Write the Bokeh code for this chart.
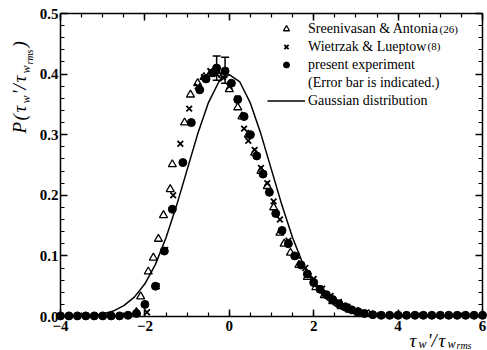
import math
from bokeh.plotting import figure
from bokeh.models import (ColumnDataSource, Range1d, SingleIntervalTicker, LinearAxis,
                          Whisker, TeeHead, Legend, LegendItem, Label, PrintfTickFormatter,
                          CustomJSTickFormatter)
from bokeh.embed import file_html
from bokeh.resources import INLINE

# ---------------- data ----------------
# present experiment (filled circles)
pres_x = [-4.0, -3.8, -3.6, -3.4, -3.2, -3.0, -2.8, -2.6, -2.4, -2.2, -2.0, -1.75, -1.54, -1.35,
          -1.1, -0.9, -0.7, -0.55, -0.4, -0.3, -0.1, 0.05, 0.2, 0.35, 0.5, 0.65, 0.8, 0.95,
          1.1, 1.25, 1.4, 1.55, 1.7, 1.85, 2.0, 2.15, 2.3, 2.45, 2.6, 2.75, 2.9, 3.05, 3.2,
          3.4, 3.6, 3.8, 4.0, 4.2, 4.4, 4.6, 4.8, 5.0, 5.2, 5.4, 5.6, 5.8, 6.0]
pres_y = [0.001, 0.001, 0.001, 0.001, 0.001, 0.001, 0.001, 0.001, 0.002, 0.005, 0.02, 0.05, 0.108, 0.177,
          0.254, 0.32, 0.374, 0.392, 0.402, 0.41, 0.405, 0.385, 0.358, 0.33, 0.3, 0.265, 0.235, 0.205,
          0.17, 0.142, 0.12, 0.1, 0.085, 0.07, 0.056, 0.045, 0.036, 0.028, 0.021, 0.016, 0.011, 0.008, 0.005,
          0.003, 0.002, 0.002, 0.002, 0.002, 0.002, 0.002, 0.002, 0.002, 0.002, 0.002, 0.002, 0.002, 0.002]
# error bars of the present experiment
err_x = [-0.3, -0.1]
err_lo = [0.39, 0.385]
err_hi = [0.43, 0.428]

# Wietrzak & Lueptow (crosses)
wl_x = [-1.95, -1.72, -1.52, -1.33, -1.16, -0.95, -0.75, -0.6, -0.45, -0.3, -0.15, 0.0, 0.2, 0.35,
        0.45, 0.6, 0.75, 0.9, 1.05, 1.2, 1.4, 1.6, 1.8, 2.0, 2.2, 2.4, 2.6, 2.8, 3.0, 3.2]
wl_y = [0.007, 0.05, 0.11, 0.2, 0.285, 0.343, 0.38, 0.395, 0.405, 0.4, 0.395, 0.38, 0.36, 0.31,
        0.29, 0.275, 0.245, 0.22, 0.19, 0.16, 0.125, 0.1, 0.08, 0.062, 0.046, 0.034, 0.024, 0.016, 0.01, 0.006]

# Sreenivasan & Antonia (open triangles)
sa_x = [-2.2, -2.1, -1.92, -1.8, -1.68, -1.56, -1.4, -1.35, -1.06, -0.92, -0.75, -0.6, -0.45, -0.3,
        -0.15, 0.0, 0.2, 0.3, 0.45, 0.6, 0.75, 0.9, 1.05, 1.2, 1.3, 1.45, 1.65, 1.85, 2.05, 2.25,
        2.45, 2.65, 2.85, 3.05, 3.3]
sa_y = [0.007, 0.033, 0.074, 0.097, 0.128, 0.167, 0.21, 0.251, 0.32, 0.366, 0.385, 0.395, 0.4, 0.405,
        0.398, 0.375, 0.345, 0.33, 0.3, 0.27, 0.24, 0.215, 0.18, 0.138, 0.12, 0.105, 0.085, 0.065, 0.048, 0.035,
        0.025, 0.017, 0.011, 0.007, 0.004]

# Gaussian distribution (curve as drawn)
g_x = [-4, -3.75, -3.5, -3.25, -3, -2.75, -2.5, -2.25, -2, -1.75, -1.5, -1.25, -1, -0.75, -0.5, -0.25,
       0, 0.25, 0.5, 0.75, 1, 1.25, 1.5, 1.75, 2, 2.25, 2.5, 2.75, 3, 3.25, 3.5, 3.75, 4, 6]
g_y = [0.000, 0.000, 0.001, 0.002, 0.004, 0.009, 0.018, 0.032, 0.054, 0.086, 0.130, 0.183, 0.242, 0.301,
       0.352, 0.387, 0.399, 0.387, 0.352, 0.301, 0.242, 0.183, 0.130, 0.086, 0.054, 0.032, 0.018, 0.009,
       0.004, 0.002, 0.001, 0.000, 0.000, 0.000]

names = ["Sreenivasan & Antonia", "Wietrzak & Lueptow", "present experiment",
         "(Error bar is indicated.)", "Gaussian distribution"]
sups = ["(26)", "(8)"]

# ---------------- layout ----------------
W, H = 487, 350
FL, FR, FT, FB = 60, 482, 13, 316          # pixel box of the drawn axes
X0, X1, Y0, Y1 = -4, 6, 0, 0.5
kx = (FR - FL) / (X1 - X0)
ky = (FB - FT) / (Y1 - Y0)
xr = Range1d(X0 - FL / kx, X1 + (W - FR) / kx)
yr_ = Range1d(Y0 - (H - FB) / ky, Y1 + FT / ky)

def sx(px):
    return px

def sy(py):
    return H - py

SERIF = "Liberation Serif"

p = figure(width=W, height=H, output_backend="svg", toolbar_location=None,
           x_range=xr, y_range=yr_, min_border=0,
           x_axis_type=None, y_axis_type=None)
p.grid.visible = False
p.outline_line_color = None
p.background_fill_color = "white"
p.border_fill_color = "white"

xt = SingleIntervalTicker(interval=2, num_minor_ticks=4)
yt = SingleIntervalTicker(interval=0.1, num_minor_ticks=5)

def style_axis(ax, labels=True):
    ax.axis_line_color = "black"
    ax.axis_line_width = 1.5
    ax.major_tick_in = 7
    ax.major_tick_out = 0
    ax.minor_tick_in = 4
    ax.minor_tick_out = 0
    ax.major_tick_line_width = 1.5
    ax.minor_tick_line_width = 1.2
    ax.major_tick_line_color = "black"
    ax.minor_tick_line_color = "black"
    if labels:
        ax.major_label_text_font = SERIF
        ax.major_label_text_font_style = "bold"
        ax.major_label_text_font_size = "15px"
        ax.major_label_text_color = "black"
    else:
        ax.formatter = CustomJSTickFormatter(code="return ''")
        ax.major_label_text_font_size = "2px"
        ax.major_label_standoff = 0
        ax.axis_label_standoff = 0

xb = LinearAxis(ticker=xt, fixed_location=Y0, bounds=(X0, X1))
style_axis(xb)
xb.major_label_standoff = 4
p.add_layout(xb, "below")
xa = LinearAxis(ticker=xt, fixed_location=Y1, bounds=(X0, X1))
style_axis(xa, labels=False)
p.add_layout(xa, "above")
yl = LinearAxis(ticker=yt, formatter=PrintfTickFormatter(format="%.1f"), fixed_location=X0, bounds=(Y0, Y1))
style_axis(yl)
yl.major_label_standoff = 2
p.add_layout(yl, "left")
yrx = LinearAxis(ticker=yt, fixed_location=X1, bounds=(Y0, Y1))
style_axis(yrx, labels=False)
p.add_layout(yrx, "right")

# ---------------- glyphs ----------------
g_src = ColumnDataSource(dict(x=g_x, y=g_y))
r_g = p.line("x", "y", source=g_src, line_color="black", line_width=1.5)

sa_src = ColumnDataSource(dict(x=sa_x, y=sa_y))
r_sa = p.scatter("x", "y", source=sa_src, marker="triangle", size=8,
                 fill_color="white", fill_alpha=0, line_color="black", line_width=1.3)
wl_src = ColumnDataSource(dict(x=wl_x, y=wl_y))
r_wl = p.scatter("x", "y", source=wl_src, marker="x", size=8, line_color="black", line_width=1.8)
pr_src = ColumnDataSource(dict(x=pres_x, y=pres_y))
r_pr = p.scatter("x", "y", source=pr_src, marker="circle", size=8,
                 fill_color="black", line_color="black")

e_src = ColumnDataSource(dict(x=err_x, lo=err_lo, hi=err_hi))
wh = Whisker(source=e_src, base="x", lower="lo", upper="hi", line_color="black", line_width=1.5,
             upper_head=TeeHead(size=8, line_color="black", line_width=1.5),
             lower_head=TeeHead(size=8, line_color="black", line_width=1.5))
p.add_layout(wh)

r_dummy = p.scatter([], [], marker="circle", size=1, fill_alpha=0, line_alpha=0)

ITEM_H, SPACING, N_ITEMS = 15, 2, 5
leg_top = 25.5
leg_bottom = leg_top + N_ITEMS * ITEM_H + (N_ITEMS - 1) * SPACING
legend = Legend(items=[
    LegendItem(label=names[0], renderers=[r_sa]),
    LegendItem(label=names[1], renderers=[r_wl]),
    LegendItem(label=names[2], renderers=[r_pr]),
    LegendItem(label=names[3], renderers=[r_dummy]),
    LegendItem(label=names[4], renderers=[r_g]),
], location=(267, H - leg_bottom), orientation="vertical")
legend.label_text_font = SERIF
legend.label_text_font_size = "14px"
legend.label_text_color = "black"
legend.label_height = ITEM_H
legend.glyph_height = ITEM_H
legend.glyph_width = 38
legend.label_standoff = 3
legend.spacing = SPACING
legend.padding = 0
legend.margin = 0
legend.border_line_alpha = 0
legend.background_fill_alpha = 0
p.add_layout(legend, "center")

# superscripts in legend
for txt, px, py in [(sups[0], 439, 28), (sups[1], 427, 45)]:
    p.add_layout(Label(x=sx(px), y=sy(py), x_units="screen", y_units="screen", text=txt,
                       text_font=SERIF, text_font_size="11px", text_color="black",
                       text_align="left", text_baseline="alphabetic"))

# ---------------- axis titles (composed pieces) ----------------
# (text, start position along the text, baseline position across, font size)
ylab = [("P", 133, 19, 19), ("(", 120, 19, 19), ("τ", 112, 19, 19), ("w", 103, 25, 12),
        ("'", 94, 19, 19), ("/", 89, 19, 19), ("τ", 82, 19, 19), ("w", 73, 25, 12),
        ("rms", 64, 29, 10), (")", 47, 19, 19)]
for txt, py, px, fs in ylab:
    p.add_layout(Label(x=sx(px), y=sy(py), x_units="screen", y_units="screen", text=txt,
                       angle=math.pi / 2, text_font=SERIF,
                       text_font_style="italic", text_font_size=f"{fs}px", text_color="black",
                       text_align="left", text_baseline="alphabetic"))

xlab = [("τ", 409, 340, 19), ("w", 418, 343, 12), ("'/", 427, 340, 19), ("τ", 438, 340, 19),
        ("w", 447, 343, 12), ("rms", 456, 345, 10)]
for txt, px, py, fs in xlab:
    p.add_layout(Label(x=sx(px), y=sy(py), x_units="screen", y_units="screen", text=txt,
                       text_font=SERIF,
                       text_font_style="italic", text_font_size=f"{fs}px", text_color="black",
                       text_align="left", text_baseline="alphabetic"))

open("out.html", "w").write(file_html(p, INLINE))
